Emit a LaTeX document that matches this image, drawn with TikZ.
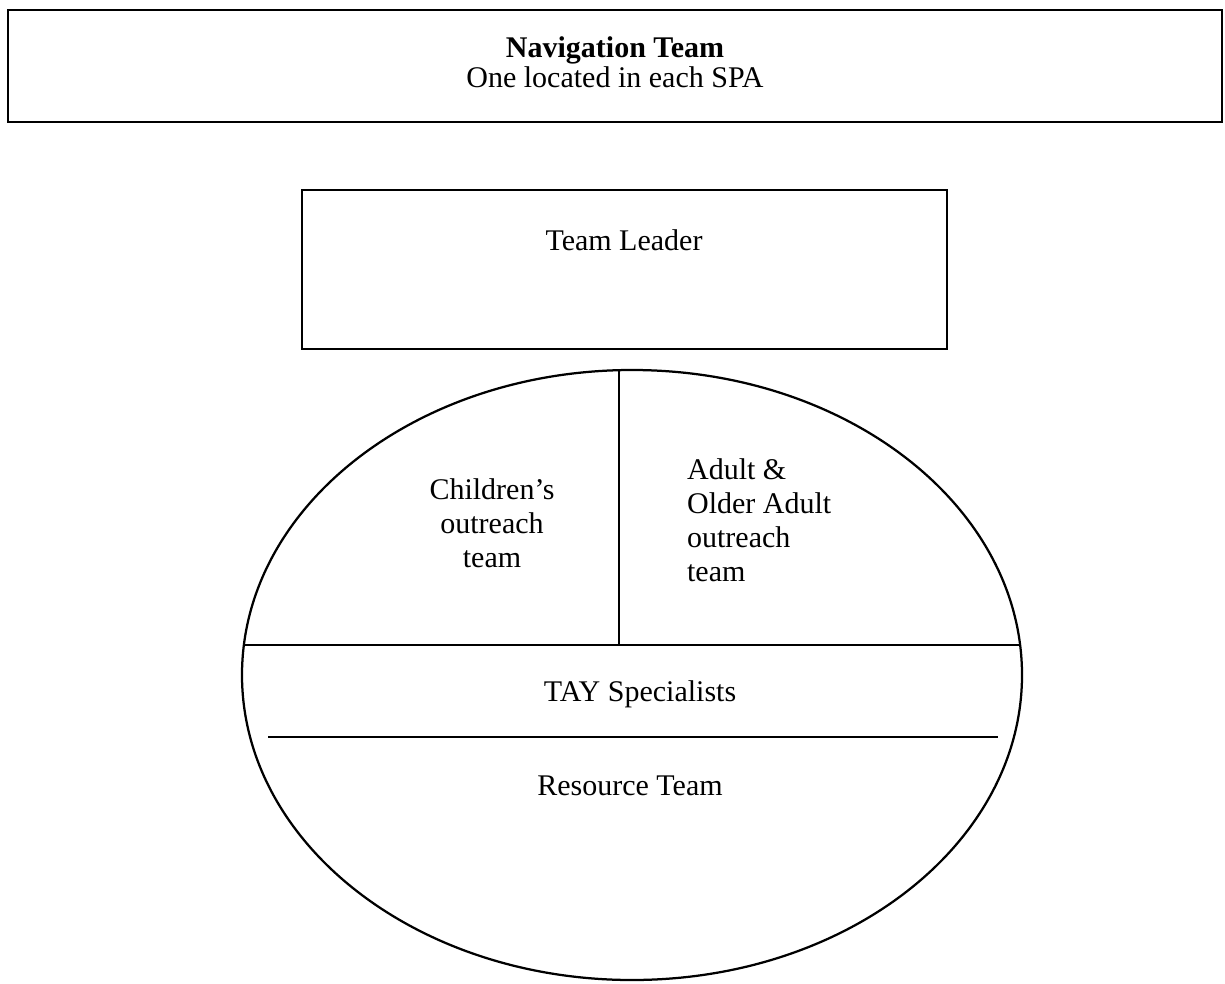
\documentclass[tikz,border=0pt]{standalone}
\usepackage{fontspec}
\setmainfont{Liberation Serif}
\usepackage{tikz}

\begin{document}
\begin{tikzpicture}[x=0.4pt,y=0.4pt,line width=0.9pt,
  txt/.style={font=\fontsize{12}{13.6}\selectfont,inner sep=0pt}]
\useasboundingbox (0,0) rectangle (1225,983);
% outer banner
\draw (8,861) rectangle (1222,973);
\node[txt,align=center,font=\fontsize{12}{10.8}\selectfont] (nav) at (615,921)
  {\textbf{Navigation Team}\\One located in each SPA};
% team leader
\draw (302,634) rectangle (947,793);
\node[txt] (lead) at (624,743) {Team Leader};
% the ellipse and its parts
\draw (632,308) ellipse [x radius=390,y radius=305];
\draw (619,612) -- (619,338);
\draw (244,338) -- (1020,338);
\draw (268,246) -- (998,246);
\node[txt,align=center] (child) at (492,460) {Children’s\\outreach\\team};
\node[txt,align=left,anchor=west] (adult) at (686,463) {Adult \&\\Older Adult\\outreach\\team};
\node[txt] (tay) at (640,289) {TAY Specialists};
\node[txt] (res) at (630,197) {Resource Team};
\end{tikzpicture}
\end{document}
